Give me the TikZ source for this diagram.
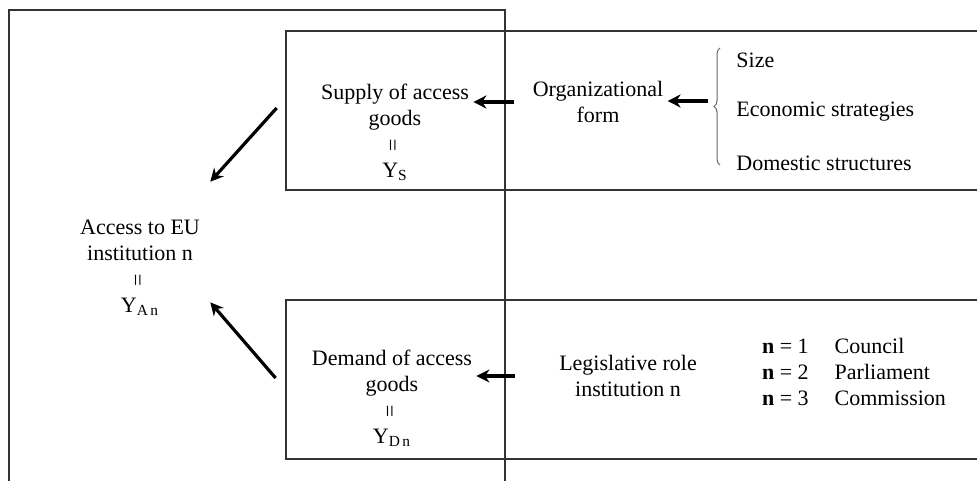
\documentclass[tikz,border=0pt]{standalone}
\usepackage{fontspec}
\setmainfont{Liberation Serif}
\usepackage{graphicx}
\usetikzlibrary{arrows.meta,decorations.pathreplacing}

\begin{document}
\begin{tikzpicture}[x=0.5pt,y=-0.5pt,
  every node/.style={font=\fontsize{11}{13}\selectfont,inner sep=2pt},
  block/.style={align=center},
  frame/.style={line width=0.8pt,black!80},
  arr/.style={line width=1.6pt,-{Stealth[length=6.5pt,width=6.5pt]}}]
  \useasboundingbox (0,0) rectangle (977,481);

  % frames
  \draw[frame] (9,481) -- (9,10) -- (505,10) -- (505,481);
  \draw[frame] (977,31) -- (286,31) -- (286,190) -- (977,190);
  \draw[frame] (977,300) -- (286,300) -- (286,459) -- (977,459);

  \node[block] (access) at (140,268) {Access to EU\\institution n\\\rotatebox{90}{=}\\Y\textsubscript{A\,n}};
  \node[block] (supply) at (395,132) {Supply of access\\goods\\\rotatebox{90}{=}\\Y\textsubscript{S}};
  \node[block] (demand) at (392,398) {Demand of access\\goods\\\rotatebox{90}{=}\\Y\textsubscript{D\,n}};
  \node[block] (org) at (598,102) {Organizational\\form};
  \node[block] (legis) at (628,376) {Legislative role\\institution n};

  \node[anchor=west] (size) at (732,60) {Size};
  \node[anchor=west] (econ) at (732,112) {Economic strategies};
  \node[anchor=west] (dom) at (732,163) {Domestic structures};
  \draw[black!60,line width=0.5pt,decorate,decoration={brace,amplitude=3pt}]
    (720,165) -- (720,48);
  \coordinate (bracetip) at (714,101);

  \node (inst) at (854,374) {\begin{tabular}{@{}l@{\hspace{13pt}}l@{}}
    \textbf{n} = 1 & Council\\
    \textbf{n} = 2 & Parliament\\
    \textbf{n} = 3 & Commission
  \end{tabular}};

  % arrows
  \draw[arr,shorten <=3pt] (bracetip) -- (bracetip -| org.east);
  \draw[arr,shorten <=7pt] (org.west) -- (org.west -| supply.east);
  \draw[arr,shorten <=20pt] (legis.west) -- (legis.west -| demand.east);
  \draw[arr] ([shift={(-40,-24)}]supply.west) -- ([shift={(6,-34)}]access.north east);
  \draw[arr] ([shift={(-32,-20)}]demand.west) -- ([shift={(6,-18)}]access.south east);
\end{tikzpicture}
\end{document}
